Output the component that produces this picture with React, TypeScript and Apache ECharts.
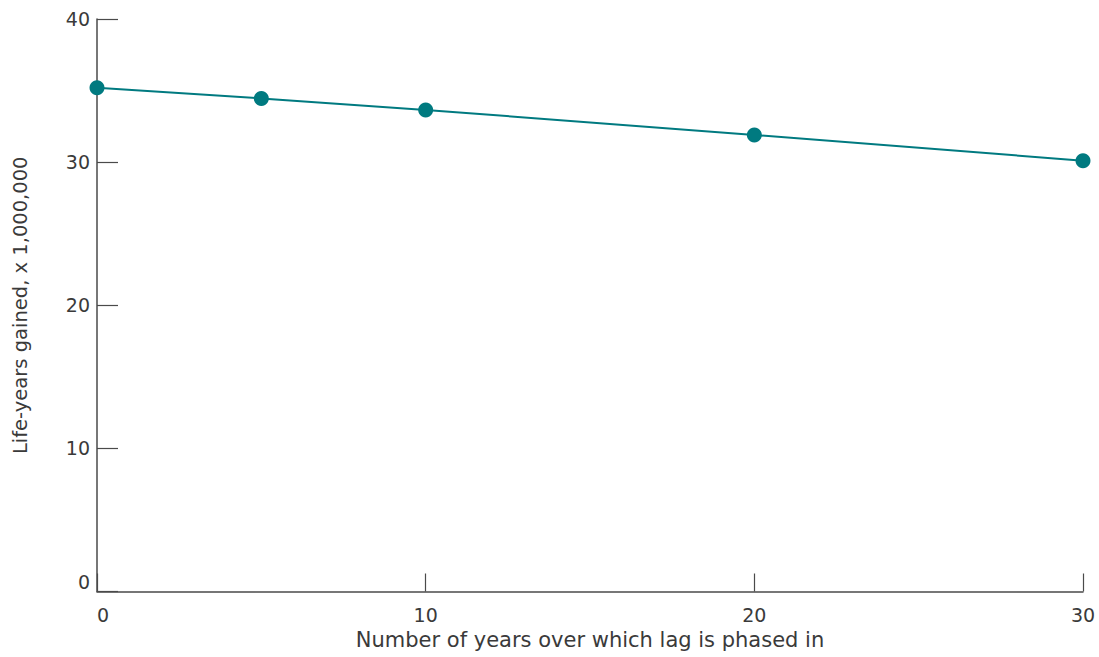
import React, { useEffect, useRef } from "react";
import * as echarts from "echarts";

const lagYears = [0, 5, 10, 20, 30];
const lifeYearsGained = [35.2, 34.45, 33.65, 31.9, 30.1];
const xTitle = "Number of years over which lag is phased in";
const yTitle = "Life-years gained, x 1,000,000";

const FONT = "DejaVu Sans";
const AXIS_COLOR = "#4a4a4a";
const TEXT_COLOR = "#3a3a3a";
const LINE_COLOR = "#007A80";

export default function App() {
  const ref = useRef<HTMLDivElement>(null);
  useEffect(() => {
    if (!ref.current) return;
    const chart = echarts.init(ref.current, undefined, { renderer: "svg" });
    chart.setOption({
      animation: false,
      backgroundColor: "#ffffff",
      grid: { left: 97, right: 16, top: 19, bottom: 65.5, outerBoundsMode: "none", containLabel: false },
      xAxis: {
        type: "value",
        min: 0,
        max: 30,
        interval: 10,
        name: xTitle,
        nameLocation: "middle",
        nameGap: 37,
        nameTextStyle: { fontFamily: FONT, fontSize: 21, color: TEXT_COLOR },
        splitLine: { show: false },
        axisLine: { lineStyle: { color: AXIS_COLOR, width: 1.5 } },
        axisTick: { inside: true, length: 18, lineStyle: { color: AXIS_COLOR, width: 1.2 } },
        axisLabel: {
          fontFamily: FONT,
          fontSize: 19,
          color: TEXT_COLOR,
          margin: 14,
          alignMinLabel: "left",
        },
      },
      yAxis: {
        type: "value",
        min: 0,
        max: 40,
        interval: 10,
        name: yTitle,
        nameLocation: "middle",
        nameGap: 67,
        nameTextStyle: { fontFamily: FONT, fontSize: 19.5, color: TEXT_COLOR },
        splitLine: { show: false },
        axisLine: { show: true, lineStyle: { color: AXIS_COLOR, width: 1.5 } },
        axisTick: { show: true, inside: true, length: 21, lineStyle: { color: AXIS_COLOR, width: 1.2 } },
        axisLabel: {
          fontFamily: FONT,
          fontSize: 19,
          color: TEXT_COLOR,
          margin: 7,
          verticalAlignMinLabel: "bottom",
        },
      },
      series: [
        {
          type: "line",
          data: lagYears.map((x, i) => [x, lifeYearsGained[i]]),
          symbol: "circle",
          symbolSize: 15,
          lineStyle: { color: LINE_COLOR, width: 2 },
          itemStyle: { color: LINE_COLOR },
          clip: false,
        },
      ],
    });
    return () => chart.dispose();
  }, []);
  return <div ref={ref} style={{ width: 1099, height: 657, position: "absolute", left: 0, top: 0 }} />;
}
